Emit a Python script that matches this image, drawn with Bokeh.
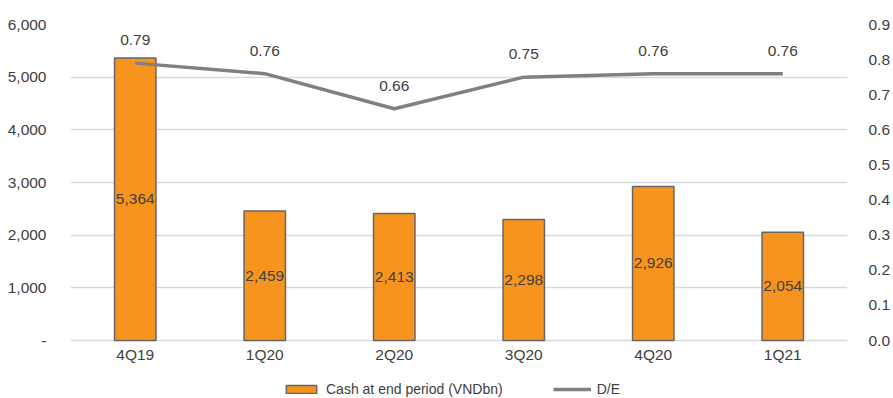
from bokeh.plotting import figure
from bokeh.models import (ColumnDataSource, FactorRange, Range1d, LinearAxis,
                          FixedTicker, CustomJSTickFormatter, Legend, LegendItem)
from bokeh.core.properties import value
from bokeh.embed import file_html
from bokeh.resources import INLINE

quarters = ["4Q19", "1Q20", "2Q20", "3Q20", "4Q20", "1Q21"]
cash = [5364, 2459, 2413, 2298, 2926, 2054]
de_ratio = [0.79, 0.76, 0.66, 0.75, 0.76, 0.76]
left_ticks = [0, 1000, 2000, 3000, 4000, 5000, 6000]
right_ticks = [0.0, 0.1, 0.2, 0.3, 0.4, 0.5, 0.6, 0.7, 0.8, 0.9]

FONT = "Liberation Sans"
TXT = "#404040"
FS = "15.5px"

# frame spans y=24..398; value 0 sits 58px above the bottom edge
TOP_PX, ZERO_PX, BOT_PX = 24, 340, 398
L_MAX, R_MAX = 6000, 0.9
l_start = -L_MAX * (BOT_PX - ZERO_PX) / (ZERO_PX - TOP_PX)
r_start = -R_MAX * (BOT_PX - ZERO_PX) / (ZERO_PX - TOP_PX)

src = ColumnDataSource(dict(
    q=quarters, cash=cash, half=[c / 2 for c in cash],
    cash_lbl=[f"{c:,}" for c in cash],
    de=de_ratio, de_lbl=[f"{d:.2f}" for d in de_ratio],
))

p = figure(x_range=FactorRange(*quarters, range_padding=0), y_range=Range1d(l_start, L_MAX),
           width=893, height=398, output_backend="svg", toolbar_location=None,
           min_border_left=70, min_border_right=40, min_border_top=TOP_PX, min_border_bottom=0)
p.extra_y_ranges = {"de": Range1d(r_start, R_MAX)}
p.outline_line_color = None
p.background_fill_color = "white"

bars = p.vbar(x="q", top="cash", bottom=0, width=0.32, source=src, fill_color="#F7941E",
              line_color="#666666", line_width=1.5)
line = p.line(x="q", y="de", source=src, y_range_name="de", line_color="#808080",
              line_width=3.5)

p.text(x="q", y="half", text="cash_lbl", source=src, text_align="center",
       text_baseline="middle", text_font=value(FONT), text_font_size=FS, text_color=TXT)
p.text(x="q", y="de", text="de_lbl", source=src, y_range_name="de", y_offset=-23,
       text_align="center", text_baseline="middle", text_font=value(FONT),
       text_font_size=FS, text_color=TXT)

# left axis
ya = p.yaxis[0]
ya.ticker = FixedTicker(ticks=left_ticks)
ya.formatter = CustomJSTickFormatter(code="return tick == 0 ? '-' : tick.toLocaleString('en-US');")
ya.axis_line_color = None
ya.major_tick_line_color = None
ya.minor_tick_line_color = None
ya.major_label_standoff = 18
ya.major_label_text_font = FONT
ya.major_label_text_font_size = FS
ya.major_label_text_color = TXT

ra = LinearAxis(y_range_name="de", ticker=FixedTicker(ticks=right_ticks),
                formatter=CustomJSTickFormatter(code="return tick.toFixed(1);"))
ra.axis_line_color = None
ra.major_tick_line_color = None
ra.minor_tick_line_color = None
ra.major_label_standoff = 15
ra.major_label_text_font = FONT
ra.major_label_text_font_size = FS
ra.major_label_text_color = TXT
p.add_layout(ra, "right")

xa = p.xaxis[0]
xa.fixed_location = 0
xa.axis_line_color = None
xa.major_tick_line_color = None
xa.minor_tick_line_color = None
xa.major_tick_out = 0
xa.major_tick_in = 0
xa.major_label_standoff = 5
xa.major_label_text_font = FONT
xa.major_label_text_font_size = FS
xa.major_label_text_color = TXT

p.xgrid.grid_line_color = None
p.ygrid.grid_line_color = "#d9d9d9"
p.ygrid.grid_line_width = 1.5
p.ygrid.ticker = FixedTicker(ticks=left_ticks)

legend = Legend(items=[LegendItem(label="Cash at end period (VNDbn)", renderers=[bars]),
                       LegendItem(label="D/E", renderers=[line])],
                orientation="horizontal", location=(212, 1),
                glyph_width=38, glyph_height=10, spacing=50, label_standoff=6,
                padding=0, margin=0, border_line_color=None, background_fill_alpha=0,
                label_text_font=FONT, label_text_font_size="14px", label_text_color=TXT,
                label_height=16)
p.add_layout(legend, "center")

open("out.html", "w").write(file_html(p, INLINE))
